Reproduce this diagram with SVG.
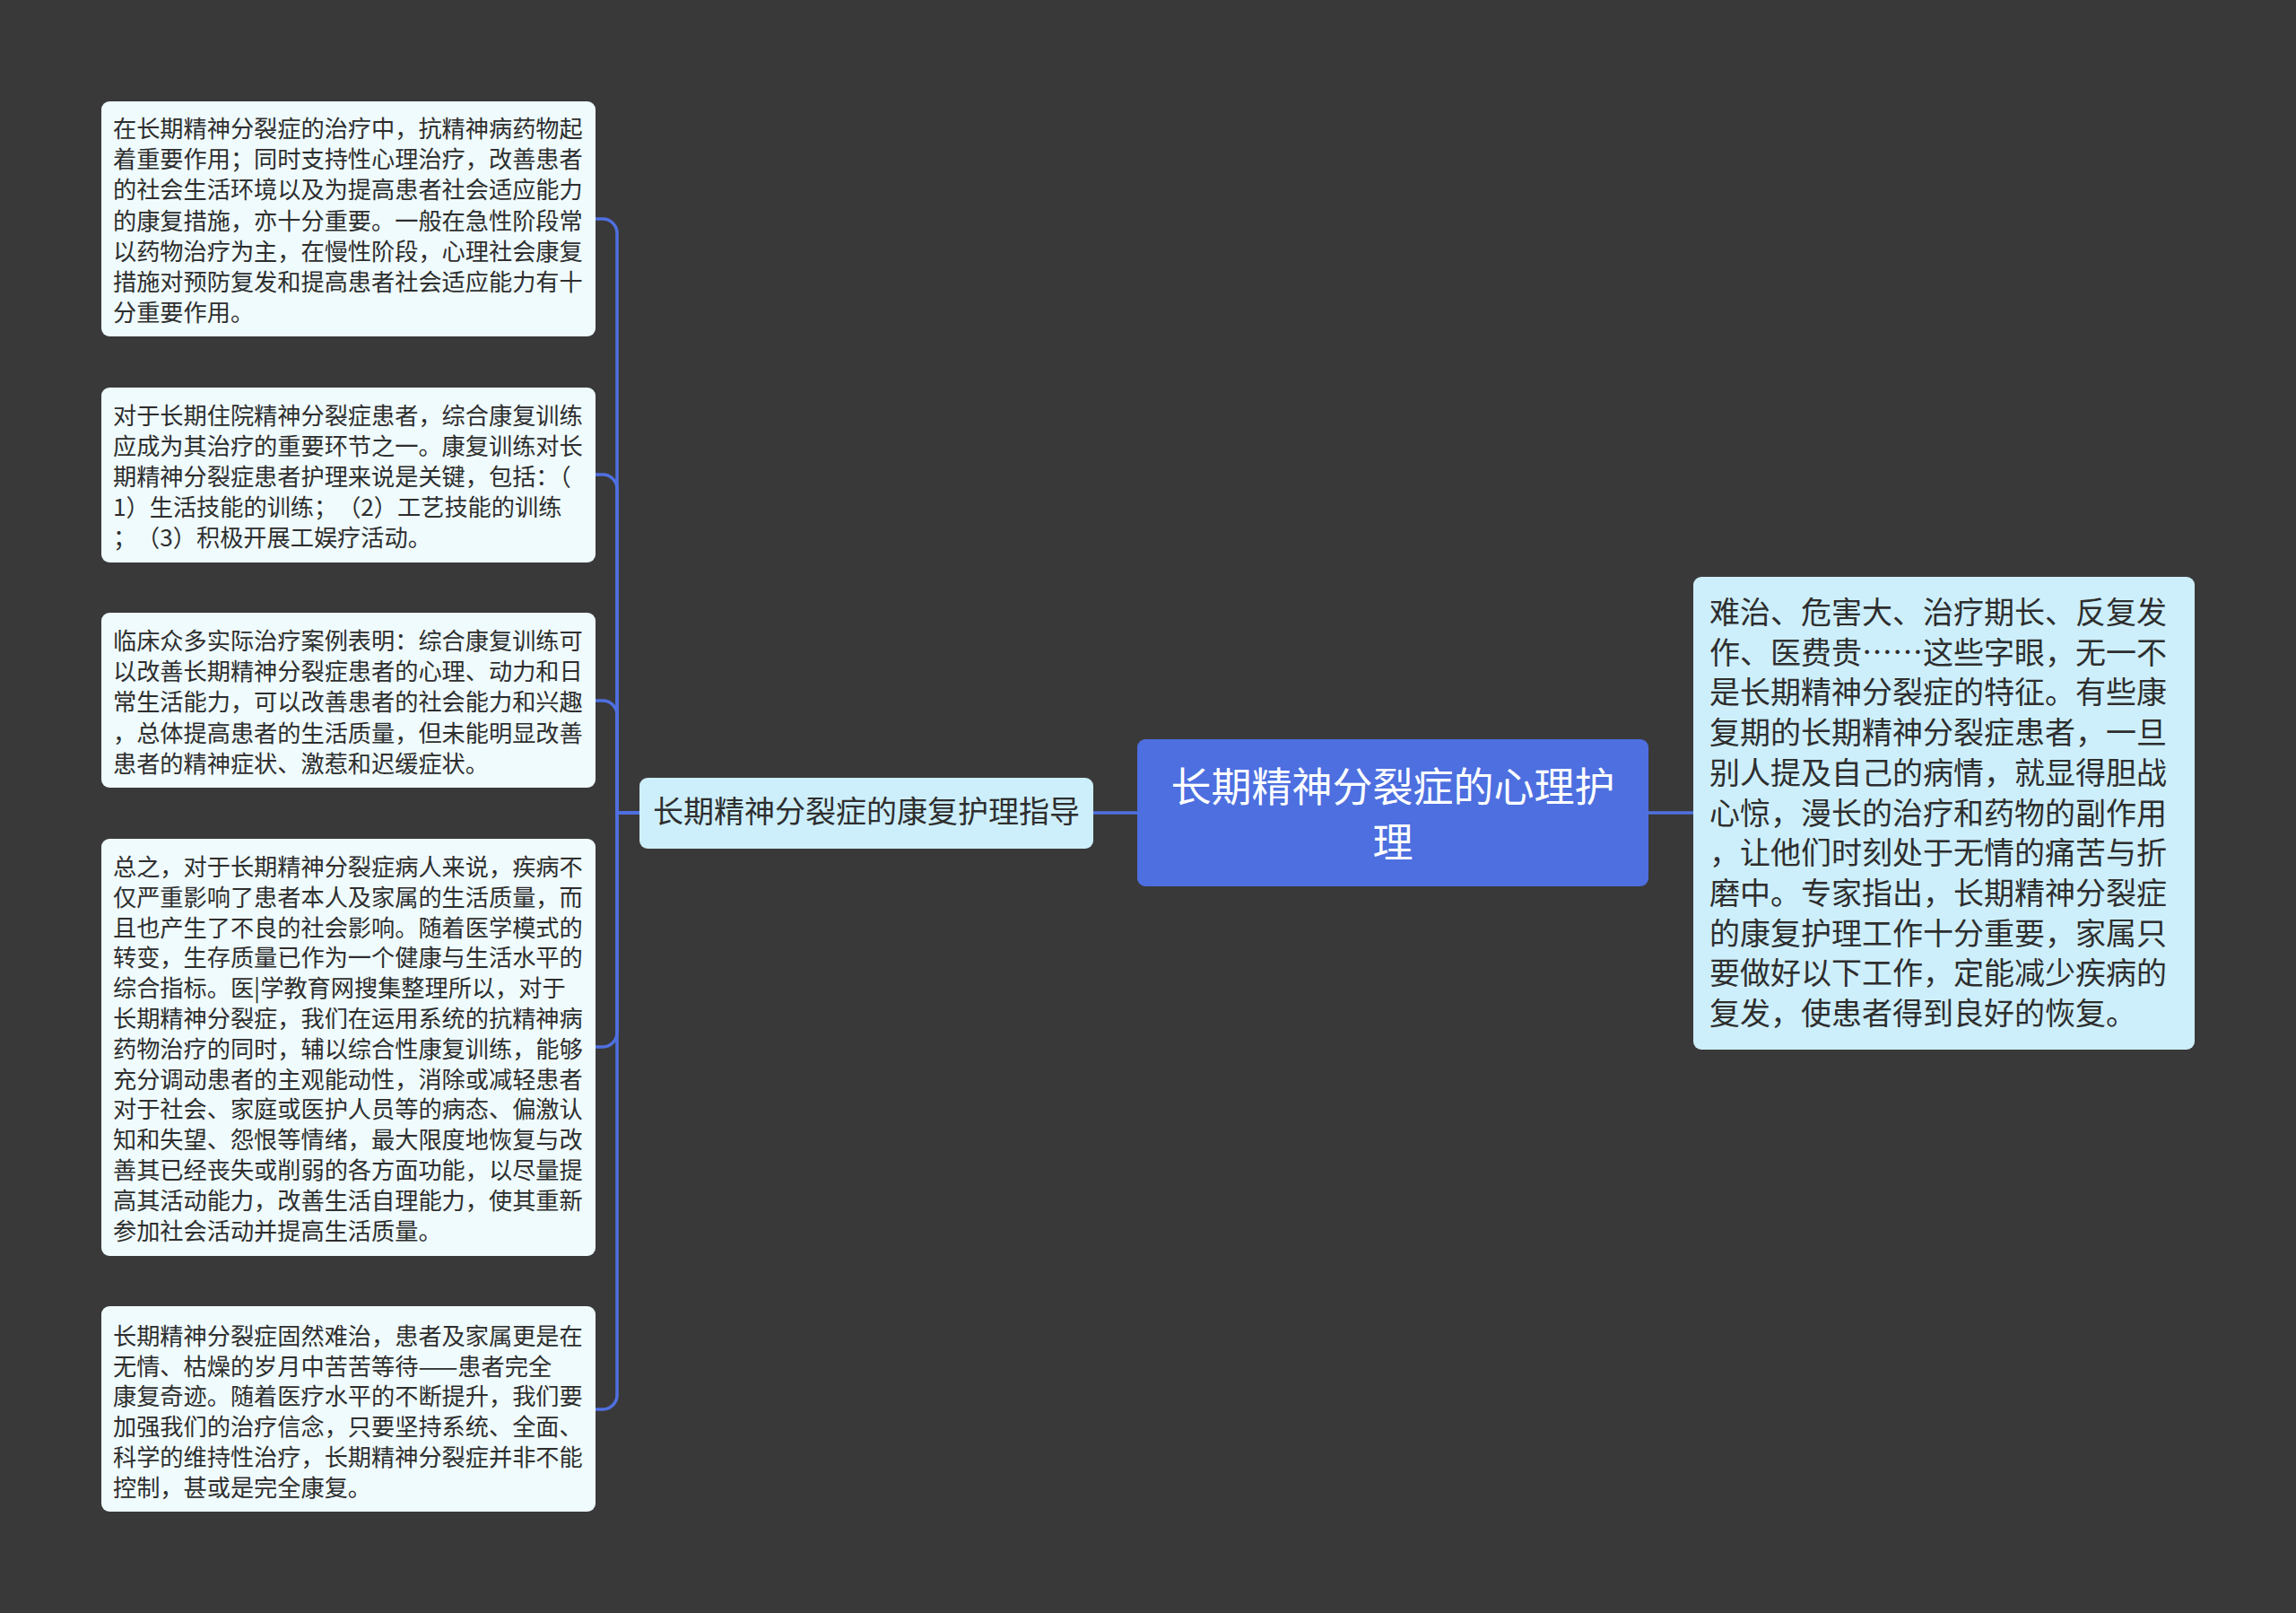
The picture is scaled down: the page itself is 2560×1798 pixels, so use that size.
<svg xmlns="http://www.w3.org/2000/svg" width="2560" height="1798" viewBox="0 0 2560 1798">
<style>
.leaf{fill:#effbfd}
.sub{fill:#cdeffc}
.root{fill:#4d6fe0}
.t{font-family:"Noto Sans CJK SC","Noto Sans",sans-serif;fill:#2e2e2e}
.lt{font-size:26.2px}
.mt{font-size:34px}
.rt{font-size:45px;fill:#ffffff}
.con{fill:none;stroke:#4f70e0;stroke-width:3.5}
</style>
<rect x="0" y="0" width="2560" height="1798" fill="#3a3939"/>
<g id="connectors">
<path class="con" d="M1838 906 H1888"/>
<path class="con" d="M1268 906 H1219"/>
<path class="con" d="M713 906 H688 V260 A16 16 0 0 0 672 244 H664"/>
<path class="con" d="M713 906 H688 V545 A16 16 0 0 0 672 529 H664"/>
<path class="con" d="M713 906 H688 V797 A16 16 0 0 0 672 781 H664"/>
<path class="con" d="M713 906 H688 V1151 A16 16 0 0 1 672 1167 H664"/>
<path class="con" d="M713 906 H688 V1555 A16 16 0 0 1 672 1571 H664"/>
</g>
<g id="root">
<rect class="root" x="1268" y="824" width="570" height="164" rx="9"/>
<text class="t rt" text-anchor="middle"><tspan x="1553" y="894">长期精神分裂症的心理护</tspan><tspan x="1553" y="956">理</tspan></text>
</g>
<g id="right-node">
<rect class="sub" x="1888" y="643" width="559" height="527" rx="9"/>
<text class="t mt">
<tspan x="1906" y="695">难治、危害大、治疗期长、反复发</tspan>
<tspan x="1906" dy="44.7">作、医费贵……这些字眼，无一不</tspan>
<tspan x="1906" dy="44.7">是长期精神分裂症的特征。有些康</tspan>
<tspan x="1906" dy="44.7">复期的长期精神分裂症患者，一旦</tspan>
<tspan x="1906" dy="44.7">别人提及自己的病情，就显得胆战</tspan>
<tspan x="1906" dy="44.7">心惊，漫长的治疗和药物的副作用</tspan>
<tspan x="1906" dy="44.7">，让他们时刻处于无情的痛苦与折</tspan>
<tspan x="1906" dy="44.7">磨中。专家指出，长期精神分裂症</tspan>
<tspan x="1906" dy="44.7">的康复护理工作十分重要，家属只</tspan>
<tspan x="1906" dy="44.7">要做好以下工作，定能减少疾病的</tspan>
<tspan x="1906" dy="44.7">复发，使患者得到良好的恢复。</tspan>
</text>
</g>
<g id="middle-node">
<rect class="sub" x="713" y="867" width="506" height="79" rx="9"/>
<text class="t mt" x="966" y="917" text-anchor="middle">长期精神分裂症的康复护理指导</text>
</g>
<g id="leaf1">
<rect class="leaf" x="113" y="113" width="551" height="262" rx="9"/>
<text class="t lt">
<tspan x="126" y="153">在长期精神分裂症的治疗中，抗精神病药物起</tspan>
<tspan x="126" dy="34.2">着重要作用；同时支持性心理治疗，改善患者</tspan>
<tspan x="126" dy="34.2">的社会生活环境以及为提高患者社会适应能力</tspan>
<tspan x="126" dy="34.2">的康复措施，亦十分重要。一般在急性阶段常</tspan>
<tspan x="126" dy="34.2">以药物治疗为主，在慢性阶段，心理社会康复</tspan>
<tspan x="126" dy="34.2">措施对预防复发和提高患者社会适应能力有十</tspan>
<tspan x="126" dy="34.2">分重要作用。</tspan>
</text>
</g>
<g id="leaf2">
<rect class="leaf" x="113" y="432" width="551" height="195" rx="9"/>
<text class="t lt">
<tspan x="126" y="472.5">对于长期住院精神分裂症患者，综合康复训练</tspan>
<tspan x="126" dy="34.2">应成为其治疗的重要环节之一。康复训练对长</tspan>
<tspan x="126" dy="34.2">期精神分裂症患者护理来说是关键，包括：（</tspan>
<tspan x="126" dy="34.2">1）生活技能的训练；</tspan><tspan dx="13">（2）工艺技能的训练</tspan>
<tspan x="126" dy="34.2">；</tspan><tspan dx="13">（3）积极开展工娱疗活动。</tspan>
</text>
</g>
<g id="leaf3">
<rect class="leaf" x="113" y="683" width="551" height="195" rx="9"/>
<text class="t lt">
<tspan x="126" y="724">临床众多实际治疗案例表明：综合康复训练可</tspan>
<tspan x="126" dy="34.2">以改善长期精神分裂症患者的心理、动力和日</tspan>
<tspan x="126" dy="34.2">常生活能力，可以改善患者的社会能力和兴趣</tspan>
<tspan x="126" dy="34.2">，总体提高患者的生活质量，但未能明显改善</tspan>
<tspan x="126" dy="34.2">患者的精神症状、激惹和迟缓症状。</tspan>
</text>
</g>
<g id="leaf4">
<rect class="leaf" x="113" y="935" width="551" height="465" rx="9"/>
<text class="t lt">
<tspan x="126" y="976">总之，对于长期精神分裂症病人来说，疾病不</tspan>
<tspan x="126" dy="33.8">仅严重影响了患者本人及家属的生活质量，而</tspan>
<tspan x="126" dy="33.8">且也产生了不良的社会影响。随着医学模式的</tspan>
<tspan x="126" dy="33.8">转变，生存质量已作为一个健康与生活水平的</tspan>
<tspan x="126" dy="33.8">综合指标。医|学教育网搜集整理所以，对于</tspan>
<tspan x="126" dy="33.8">长期精神分裂症，我们在运用系统的抗精神病</tspan>
<tspan x="126" dy="33.8">药物治疗的同时，辅以综合性康复训练，能够</tspan>
<tspan x="126" dy="33.8">充分调动患者的主观能动性，消除或减轻患者</tspan>
<tspan x="126" dy="33.8">对于社会、家庭或医护人员等的病态、偏激认</tspan>
<tspan x="126" dy="33.8">知和失望、怨恨等情绪，最大限度地恢复与改</tspan>
<tspan x="126" dy="33.8">善其已经丧失或削弱的各方面功能，以尽量提</tspan>
<tspan x="126" dy="33.8">高其活动能力，改善生活自理能力，使其重新</tspan>
<tspan x="126" dy="33.8">参加社会活动并提高生活质量。</tspan>
</text>
</g>
<g id="leaf5">
<rect class="leaf" x="113" y="1456" width="551" height="229" rx="9"/>
<text class="t lt">
<tspan x="126" y="1499">长期精神分裂症固然难治，患者及家属更是在</tspan>
<tspan x="126" dy="33.7">无情、枯燥的岁月中苦苦等待——患者完全</tspan>
<tspan x="126" dy="33.7">康复奇迹。随着医疗水平的不断提升，我们要</tspan>
<tspan x="126" dy="33.7">加强我们的治疗信念，只要坚持系统、全面、</tspan>
<tspan x="126" dy="33.7">科学的维持性治疗，长期精神分裂症并非不能</tspan>
<tspan x="126" dy="33.7">控制，甚或是完全康复。</tspan>
</text>
</g>
</svg>
